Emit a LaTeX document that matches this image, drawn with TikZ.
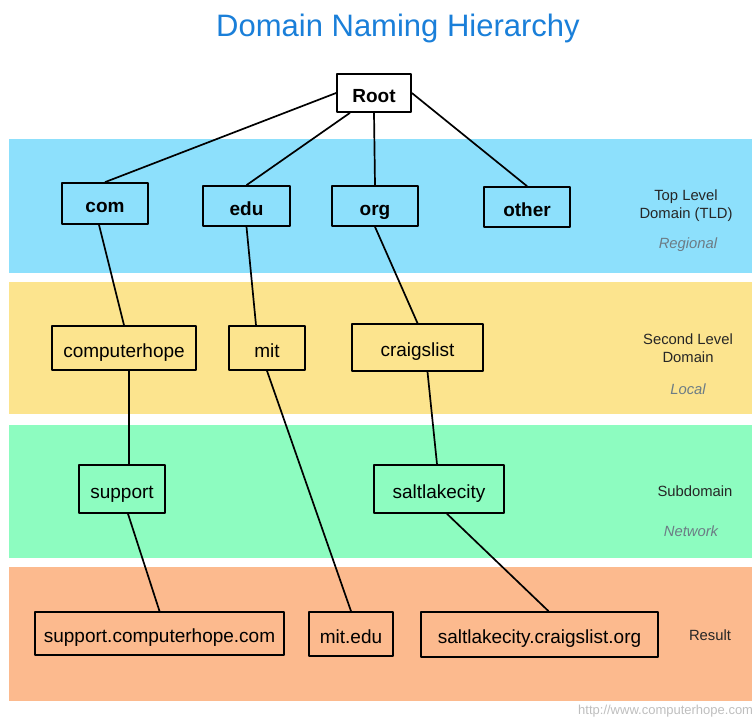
\documentclass[tikz,border=0pt]{standalone}
\usepackage{fontspec}
\setmainfont{Liberation Sans}
\definecolor{tldblue}{RGB}{141,224,252}
\definecolor{sldyellow}{RGB}{252,228,142}
\definecolor{subgreen}{RGB}{141,252,192}
\definecolor{resorange}{RGB}{252,186,142}
\definecolor{titleblue}{RGB}{26,127,217}
\definecolor{notegray}{RGB}{108,124,133}
\definecolor{urlgray}{RGB}{190,190,190}
\begin{document}
\begin{tikzpicture}[line join=bevel,
  dnsbox/.style={draw=black,line width=1.7bp,inner sep=0pt,text height=19bp,text depth=0bp,font=\fontsize{19bp}{22bp}\selectfont},
  topbox/.style={dnsbox,font=\fontsize{19bp}{22bp}\selectfont\bfseries},
  bandlabel/.style={align=center,text=black!85,font=\fontsize{14.8bp}{18bp}\selectfont},
  bandnote/.style={text=notegray,font=\fontsize{14.8bp}{18bp}\selectfont\itshape},
  link/.style={black,line width=1.7bp}]
\useasboundingbox (0bp,0bp) rectangle (752bp,718bp);
%% bands
\fill [tldblue] (9bp,445bp) rectangle (752bp,579bp);
\fill [sldyellow] (9bp,304bp) rectangle (752bp,436bp);
\fill [subgreen] (9bp,160bp) rectangle (752bp,293bp);
\fill [resorange] (9bp,17bp) rectangle (752bp,151bp);
%%
\node (node_title) at (398.0bp,690.0bp) [text=titleblue,font=\fontsize{31bp}{36bp}\selectfont] {Domain Naming Hierarchy};
\node (node_root) at (374.0bp,625.0bp) [topbox,fill=white,minimum width=74bp,minimum height=38bp] {Root};
  \node (node_com) at (105.0bp,514.5bp) [topbox,minimum width=86bp,minimum height=41bp] {com};
  \node (node_edu) at (246.5bp,512.0bp) [topbox,minimum width=87bp,minimum height=40bp] {edu};
  \node (node_org) at (375.0bp,512.0bp) [topbox,minimum width=86bp,minimum height=40bp] {org};
  \node (node_other) at (527.0bp,511.0bp) [topbox,minimum width=86bp,minimum height=40bp] {other};
  \node (node_computerhope) at (124.0bp,370.0bp) [dnsbox,minimum width=144bp,minimum height=44bp] {computerhope};
  \node (node_mit) at (267.0bp,370.0bp) [dnsbox,minimum width=76bp,minimum height=44bp] {mit};
  \node (node_craigslist) at (417.5bp,370.5bp) [dnsbox,minimum width=131bp,minimum height=47bp] {craigslist};
  \node (node_support) at (122.0bp,229.0bp) [dnsbox,minimum width=86bp,minimum height=48bp] {support};
  \node (node_saltlakecity) at (439.0bp,229.0bp) [dnsbox,minimum width=130bp,minimum height=48bp] {saltlakecity};
  \node (node_supportfull) at (159.5bp,84.5bp) [dnsbox,minimum width=249bp,minimum height=43bp] {support.computerhope.com};
  \node (node_mitfull) at (351.0bp,84.0bp) [dnsbox,minimum width=84bp,minimum height=44bp] {mit.edu};
  \node (node_saltlakefull) at (539.5bp,83.5bp) [dnsbox,minimum width=237bp,minimum height=45bp] {saltlakecity.craigslist.org};
%
  \draw [link] (node_root.west) -- (node_com.north);
  \draw [link] ([xshift=-24bp]node_root.south) -- (node_edu.north);
  \draw [link] (node_root.south) -- (node_org.north);
  \draw [link] (node_root.east) -- (node_other.north);
  \draw [link] ([xshift=-6bp]node_com.south) -- (node_computerhope.north);
  \draw [link] (node_edu.south) -- ([xshift=-11bp]node_mit.north);
  \draw [link] (node_org.south) -- (node_craigslist.north);
  \draw [link] ([xshift=5bp]node_computerhope.south) -- ([xshift=7bp]node_support.north);
  \draw [link] (node_mit.south) -- (node_mitfull.north);
  \draw [link] ([xshift=10bp]node_craigslist.south) -- ([xshift=-2bp]node_saltlakecity.north);
  \draw [link] ([xshift=6bp]node_support.south) -- (node_supportfull.north);
  \draw [link] ([xshift=8bp]node_saltlakecity.south) -- ([xshift=9bp]node_saltlakefull.north);
%% band labels
\node (node_tld) at (686.0bp,512.0bp) [bandlabel] {Top Level\\Domain (TLD)};
  \node (node_regional) at (688.0bp,473.0bp) [bandnote] {Regional};
  \node (node_sld) at (688.0bp,370.0bp) [bandlabel] {Second Level\\Domain};
  \node (node_local) at (688.0bp,329.0bp) [bandnote] {Local};
  \node (node_sub) at (695.0bp,227.0bp) [bandlabel] {Subdomain};
  \node (node_network) at (691.0bp,187.0bp) [bandnote] {Network};
  \node (node_result) at (710.0bp,83.0bp) [bandlabel] {Result};
  \node (node_url) at (578.0bp,7.0bp) [anchor=west,inner sep=0pt,text=urlgray,font=\fontsize{13bp}{15bp}\selectfont] {http://www.computerhope.com};
%
\end{tikzpicture}
\end{document}
